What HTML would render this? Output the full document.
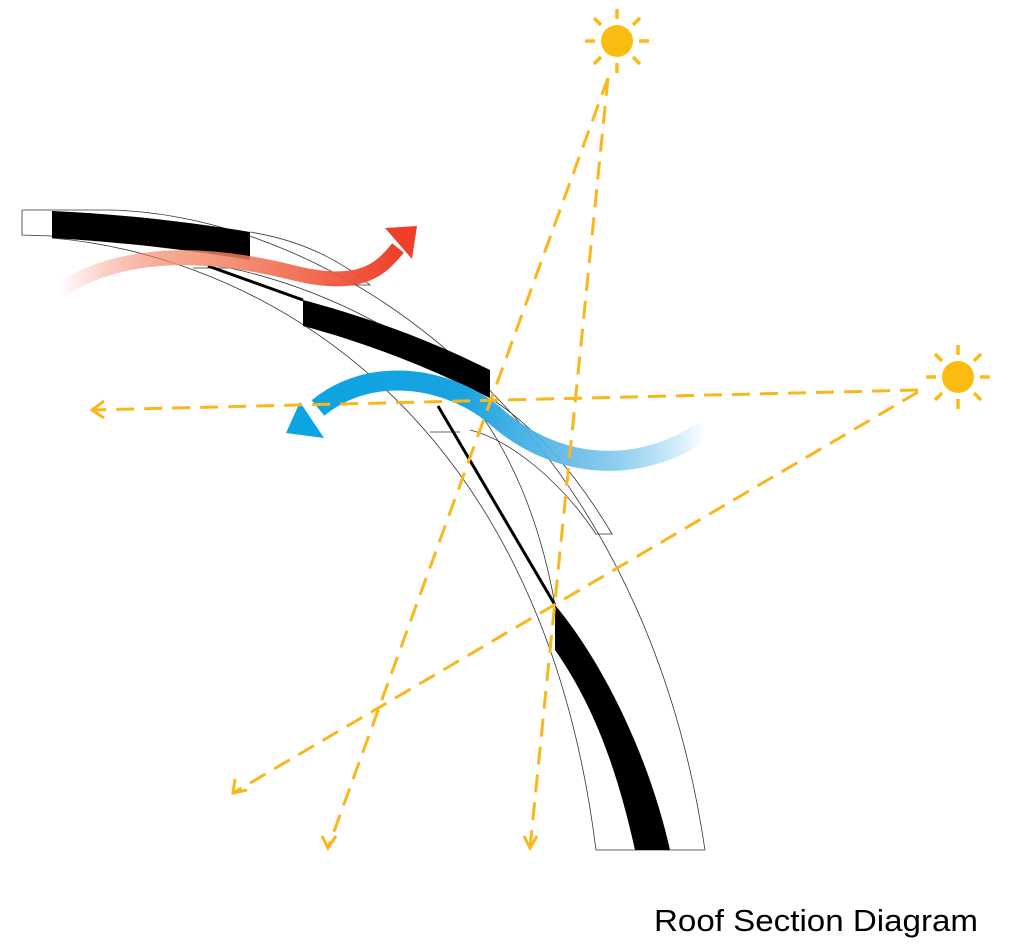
<!DOCTYPE html>
<html><head><style>
html,body{margin:0;padding:0;background:#fff;}
svg{display:block;}
</style></head><body>
<svg width="1022" height="948" viewBox="0 0 1022 948" xmlns="http://www.w3.org/2000/svg">
<defs>
<linearGradient id="rg" x1="60" y1="0" x2="400" y2="0" gradientUnits="userSpaceOnUse">
<stop offset="0" stop-color="#f04a30" stop-opacity="0"/>
<stop offset="0.35" stop-color="#f3906f" stop-opacity="0.8"/>
<stop offset="1" stop-color="#ee3f28"/>
</linearGradient>
<linearGradient id="bg" x1="705" y1="0" x2="300" y2="0" gradientUnits="userSpaceOnUse">
<stop offset="0" stop-color="#1aa3e0" stop-opacity="0"/>
<stop offset="0.3" stop-color="#6bbbe8" stop-opacity="0.9"/>
<stop offset="0.6" stop-color="#1aa3e0"/>
<stop offset="1" stop-color="#0aa5e2"/>
</linearGradient>
</defs>
<g fill="none" stroke="#333" stroke-width="0.8">
<path d="M22,210 L110,210 C330,215 640,410 705,850"/>
<path d="M22,210 L22,235 L52,236"/>
<path d="M52,238 C250,255 540,400 596,850"/>
<path d="M596,850 L705,850"/>
<path d="M193,268 L230,268 C330,290 420,340 470,390"/>
<path d="M250,232 C300,240 340,260 370,285 L323,285"/>
<path d="M490,398 C540,430 580,480 612,534 L596,534 C560,480 510,440 470,430"/>
<path d="M430,432 L460,432"/>
<path d="M470,400 C510,450 540,520 555,605"/>
</g>
<path d="M52,211 C120,214 190,222 250,232 L250,260 C190,250 120,242 52,238 Z" fill="#000"/>
<path d="M303,300 C370,318 430,340 490,370 L490,398 C430,368 370,344 303,326 Z" fill="#000"/>
<path d="M555,605 C605,665 650,760 670,850 L635,850 C615,760 590,700 555,650 Z" fill="#000"/>
<line x1="208" y1="266" x2="303" y2="300" stroke="#000" stroke-width="3"/>
<line x1="438" y1="406" x2="555" y2="605" stroke="#000" stroke-width="3"/>
<path d="M60,290 C130,245 220,255 290,272 C360,290 380,270 398,248" fill="none" stroke="url(#rg)" stroke-width="15"/>
<polygon points="385,228 417,226 412,259" fill="#ee3f28"/>
<path d="M705,430 C640,475 560,470 500,420 C450,375 370,365 318,408" fill="none" stroke="url(#bg)" stroke-width="20"/>
<polygon points="300,402 286,433 324,438" fill="#0aa5e2"/>
<g stroke="#f8b81c" stroke-width="3" stroke-dasharray="18,10" fill="none">
<line x1="608" y1="78" x2="328" y2="848"/>
<line x1="608" y1="78" x2="530" y2="848"/>
<line x1="918" y1="390" x2="92" y2="410"/>
<line x1="918" y1="392" x2="233" y2="793"/>
</g>
<g stroke="#f8b81c" stroke-width="3" fill="none">
<polyline points="104,401 92,410 104,418"/>
<polyline points="322,836 328,848 336,836"/>
<polyline points="524,836 530,848 537,836"/>
<polyline points="235,779 233,793 247,790"/>
</g>
<g fill="#fbbc12" stroke="#fbbc12" stroke-width="3.5">
<circle cx="617" cy="41" r="16" stroke="none"/>
<line x1="617" y1="9" x2="617" y2="19"/><line x1="617" y1="63" x2="617" y2="73"/>
<line x1="585" y1="41" x2="595" y2="41"/><line x1="639" y1="41" x2="649" y2="41"/>
<line x1="594" y1="18" x2="601" y2="25"/><line x1="633" y1="57" x2="640" y2="64"/>
<line x1="640" y1="18" x2="633" y2="25"/><line x1="601" y1="57" x2="594" y2="64"/>
<circle cx="958" cy="377" r="16" stroke="none"/>
<line x1="958" y1="345" x2="958" y2="355"/><line x1="958" y1="399" x2="958" y2="409"/>
<line x1="926" y1="377" x2="936" y2="377"/><line x1="980" y1="377" x2="990" y2="377"/>
<line x1="935" y1="354" x2="942" y2="361"/><line x1="974" y1="393" x2="981" y2="400"/>
<line x1="981" y1="354" x2="974" y2="361"/><line x1="942" y1="393" x2="935" y2="400"/>
</g>
<text x="654" y="931" font-family="Liberation Sans, sans-serif" font-size="31" textLength="324" lengthAdjust="spacingAndGlyphs" fill="#000">Roof Section Diagram</text>
</svg>
</body></html>
